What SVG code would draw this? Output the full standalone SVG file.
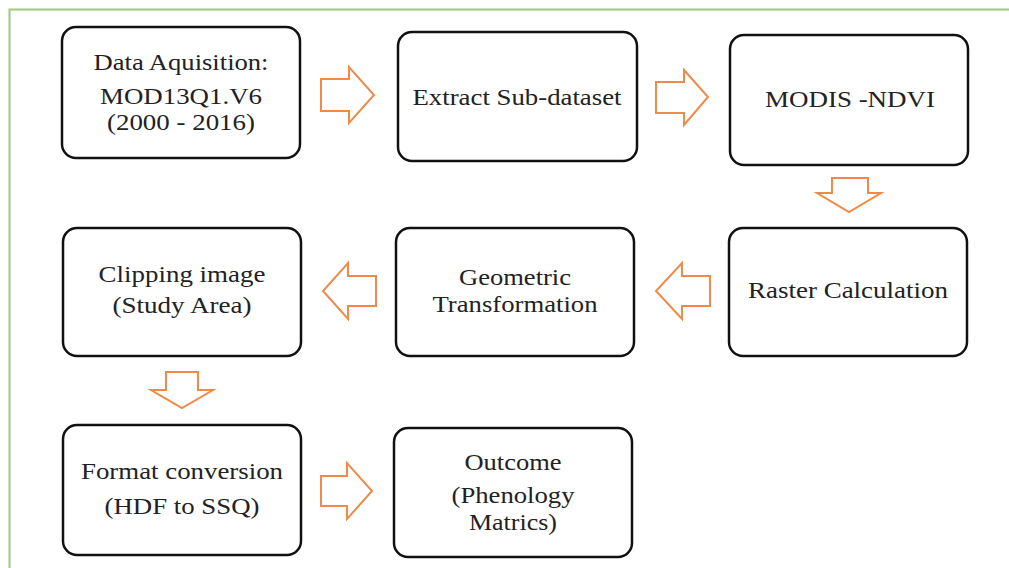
<svg xmlns="http://www.w3.org/2000/svg" width="1009" height="568" viewBox="0 0 1009 568">
<style>
.box{fill:#fff;stroke:#111;stroke-width:2.5}
.arr{fill:#fff;stroke:#ee8a4a;stroke-width:2;stroke-linejoin:miter}
.t{font-family:"Liberation Serif","Times New Roman","DejaVu Serif",serif;font-size:24px;fill:#222;text-anchor:middle}
</style>
<rect x="0" y="0" width="1009" height="568" fill="#fff"/>
<path d="M9.5 568 V9.5 H1009" fill="none" stroke="#9dc97f" stroke-width="2"/>
<g id="n1"><rect class="box" x="62" y="27" width="238" height="131" rx="14"/>
<text class="t" x="181" y="70" textLength="175" lengthAdjust="spacingAndGlyphs">Data Aquisition:</text><text class="t" x="181" y="104" textLength="162" lengthAdjust="spacingAndGlyphs">MOD13Q1.V6</text><text class="t" x="181" y="130" textLength="148" lengthAdjust="spacingAndGlyphs">(2000 - 2016)</text></g>
<g id="n2"><rect class="box" x="398" y="32" width="239" height="129" rx="14"/>
<text class="t" x="517" y="105" textLength="209" lengthAdjust="spacingAndGlyphs">Extract Sub-dataset</text></g>
<g id="n3"><rect class="box" x="730" y="35" width="238" height="130" rx="14"/>
<text class="t" x="850" y="107" textLength="170" lengthAdjust="spacingAndGlyphs">MODIS -NDVI</text></g>
<g id="n4"><rect class="box" x="729" y="228" width="238" height="128" rx="14"/>
<text class="t" x="848" y="298" textLength="200" lengthAdjust="spacingAndGlyphs">Raster Calculation</text></g>
<g id="n5"><rect class="box" x="396" y="228" width="238" height="128" rx="14"/>
<text class="t" x="515" y="285" textLength="112" lengthAdjust="spacingAndGlyphs">Geometric</text><text class="t" x="515" y="312" textLength="165" lengthAdjust="spacingAndGlyphs">Transformation</text></g>
<g id="n6"><rect class="box" x="63" y="228" width="238" height="128" rx="14"/>
<text class="t" x="182" y="282" textLength="167" lengthAdjust="spacingAndGlyphs">Clipping image</text><text class="t" x="182" y="313" textLength="139" lengthAdjust="spacingAndGlyphs">(Study Area)</text></g>
<g id="n7"><rect class="box" x="63" y="425" width="238" height="130" rx="14"/>
<text class="t" x="182" y="479" textLength="202" lengthAdjust="spacingAndGlyphs">Format conversion</text><text class="t" x="182" y="514" textLength="155" lengthAdjust="spacingAndGlyphs">(HDF to SSQ)</text></g>
<g id="n8"><rect class="box" x="394" y="428" width="238" height="129" rx="14"/>
<text class="t" x="513" y="470" textLength="97" lengthAdjust="spacingAndGlyphs">Outcome</text><text class="t" x="513" y="503" textLength="123" lengthAdjust="spacingAndGlyphs">(Phenology</text><text class="t" x="513" y="530" textLength="88" lengthAdjust="spacingAndGlyphs">Matrics)</text></g>
<g id="connectors">
<path class="arr" d="M321 79 H349 V67 L374 95 L349 123 V111 H321 Z"/>
<path class="arr" d="M656 82 H684 V70 L708 97 L684 125 V113 H656 Z"/>
<path class="arr" d="M832 178 H868 V193 H881 L849 212 L817 193 H832 Z"/>
<path class="arr" d="M710 276 H682 V263 L656 291 L682 319 V306 H710 Z"/>
<path class="arr" d="M376 276 H348 V263 L323 291 L348 319 V306 H376 Z"/>
<path class="arr" d="M166 372 H198 V390 H213 L182 408 L151 390 H166 Z"/>
<path class="arr" d="M321 476 H347 V463 L372 491 L347 519 V506 H321 Z"/>
</g>
</svg>
